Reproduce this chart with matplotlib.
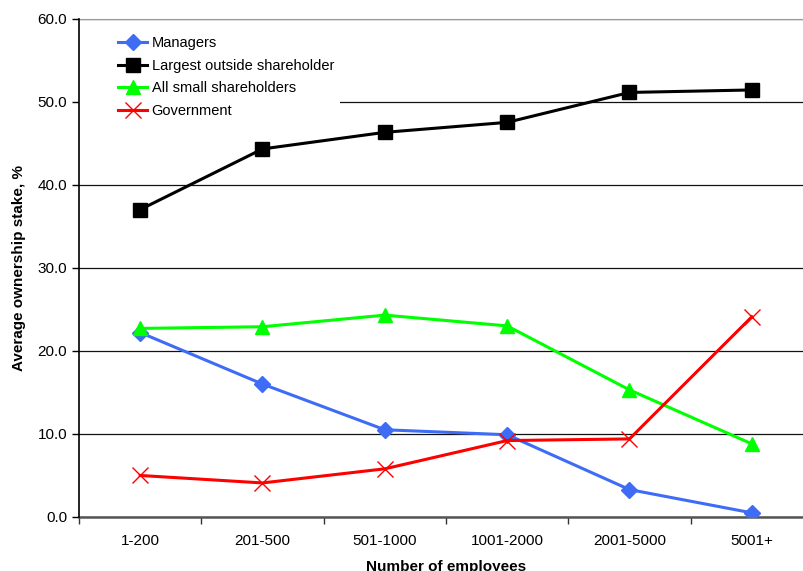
import numpy as np
import matplotlib.pyplot as plt
from matplotlib.patches import Rectangle

plt.rcParams['font.family'] = ['Liberation Sans', 'DejaVu Sans']

groups = ['1-200', '201-500', '501-1000', '1001-2000', '2001-5000', '5001+']
managers = [22.2, 16.0, 10.5, 9.9, 3.3, 0.5]
largest = [37.0, 44.3, 46.3, 47.5, 51.1, 51.4]
small = [22.7, 22.9, 24.3, 23.0, 15.3, 8.8]
government = [5.0, 4.1, 5.8, 9.2, 9.4, 24.1]

fig = plt.figure(figsize=(8.04, 5.71), dpi=100)
ax = fig.add_axes([79/804, 1-517/571, (813-79)/804, (517-18.5)/571])

x = np.arange(len(groups)) + 0.5
ax.plot(x, managers, color='#3f6cf5', lw=2.2, marker='D', ms=8, label='Managers', zorder=3)
ax.plot(x, largest, color='black', lw=2.2, marker='s', ms=10, label='Largest outside shareholder', zorder=3)
ax.plot(x, small, color='#00ff00', lw=2.2, marker='^', ms=10, label='All small shareholders', zorder=3)
ax.plot(x, government, color='#ff0000', lw=2.2, marker='x', ms=11, mew=1, label='Government', zorder=3)

ax.set_xlim(0, 6)
ax.set_ylim(0, 60)
ax.set_yticks(np.arange(0, 61, 10))
ax.set_yticklabels(['%.1f' % v for v in np.arange(0, 61, 10)], fontsize=11)
ax.set_xticks(np.arange(0, 7))
ax.set_xticklabels([])
ax.set_xticks(x, minor=True)
ax.set_xticklabels(groups, minor=True, fontsize=11)
ax.tick_params(axis='x', which='minor', length=0, pad=12)
ax.tick_params(axis='x', which='major', length=5, direction='out', width=1, color='#333333')
ax.tick_params(axis='y', length=5, width=1)

ax.grid(axis='y', color='#111111', lw=0.9)
ax.spines['top'].set_color('#999999')
ax.spines['right'].set_visible(False)
ax.spines['left'].set_linewidth(1.2)
ax.spines['bottom'].set_linewidth(1.8)
ax.spines['bottom'].set_color('#555555')
ax.spines['left'].set_zorder(6)
ax.set_axisbelow(True)

ax.set_ylabel('Average ownership stake, %', fontsize=11, fontweight='bold', labelpad=8)
ax.set_xlabel('Number of employees', fontsize=11, fontweight='bold', labelpad=9)

# white patch behind the legend, wider than the legend itself
ax.add_patch(Rectangle((0, 0.79), (340-79)/734, 0.17, transform=ax.transAxes,
                       facecolor='white', edgecolor='none', zorder=4))

leg = ax.legend(loc='upper left', bbox_to_anchor=((118-79)/734, 1-(36-18.5)/498.5),
                frameon=False, fontsize=10.5, handlelength=2.0, handletextpad=0.3,
                labelspacing=0.6, borderaxespad=0.0, borderpad=0.0)
leg.set_zorder(5)

fig.savefig('out.png', dpi=100)
